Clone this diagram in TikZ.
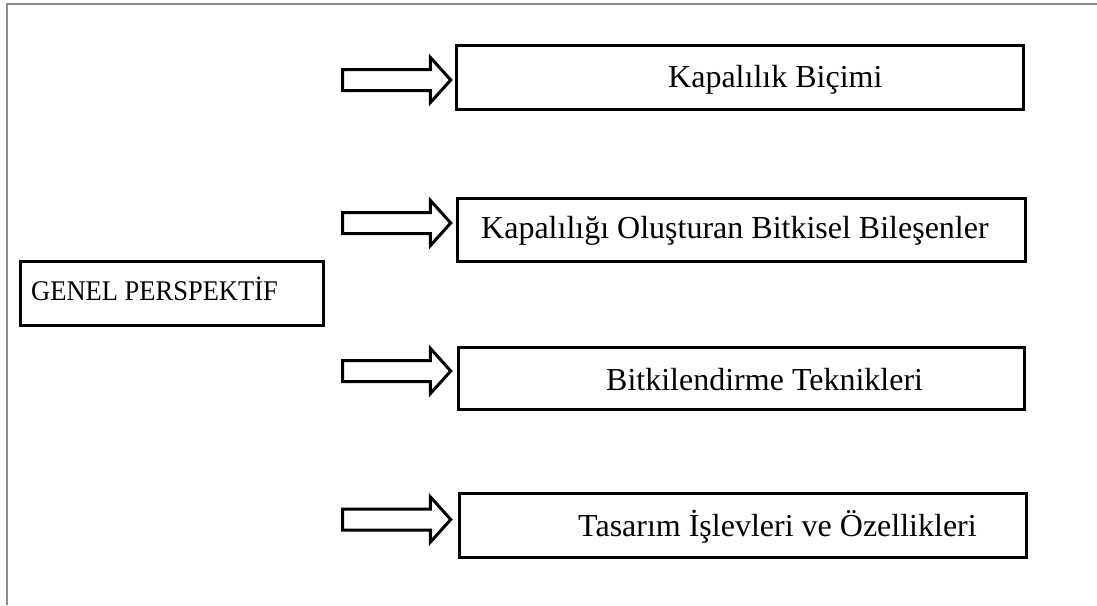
\documentclass[tikz,border=0pt]{standalone}
\usepackage{fontspec}
\setmainfont{Liberation Serif}
\usetikzlibrary{shapes.arrows}
\begin{document}
\begin{tikzpicture}[x=1pt,y=-1pt,
  box/.style={draw=black,line width=3pt,minimum width=#1,minimum height=64pt,inner sep=0pt,anchor=center},
  gplbl/.style={anchor=base west,inner sep=0pt,xscale=0.93,font=\fontsize{28.5}{32}\selectfont},
  lbl/.style={anchor=base west,inner sep=0pt,font=\fontsize{32}{36}\selectfont},
  bigarrow/.style={single arrow,draw=black,line width=3pt,minimum height=108pt,minimum width=42pt,
    single arrow head extend=12pt,single arrow tip angle=96,inner sep=0pt,anchor=center},
  frame/.style={draw=gray!90,line width=2pt}]
\useasboundingbox (0,0) rectangle (1097,605);
\draw[frame] (7,605) -- (7,4) -- (1097,4);
\node[box=303pt] (gp) at (172,293.5) {};
\node[gplbl] (gpt) at (31,300) {GENEL PERSPEKTİF};
\node[box=567pt] (b1) at (740,77.5) {};
\node[box=568pt,minimum height=63pt] (b2) at (741.5,229.5) {};
\node[box=566pt,minimum height=62pt] (b3) at (741.5,378) {};
\node[box=567pt] (b4) at (743,525.5) {};
\node[lbl] (t1) at (668,87) {Kapalılık Biçimi};
\node[lbl] (t2) at (481,238) {Kapalılığı Oluşturan Bitkisel Bileşenler};
\node[lbl] (t3) at (606,390) {Bitkilendirme Teknikleri};
\node[lbl] (t4) at (578,536) {Tasarım İşlevleri ve Özellikleri};
\node[bigarrow] (a1) at (392,80) {\rule{0pt}{18pt}};
\node[bigarrow] (a2) at (392,223) {\rule{0pt}{18pt}};
\node[bigarrow] (a3) at (392,371) {\rule{0pt}{18pt}};
\node[bigarrow] (a4) at (392,519.5) {\rule{0pt}{18pt}};
\end{tikzpicture}
\end{document}
